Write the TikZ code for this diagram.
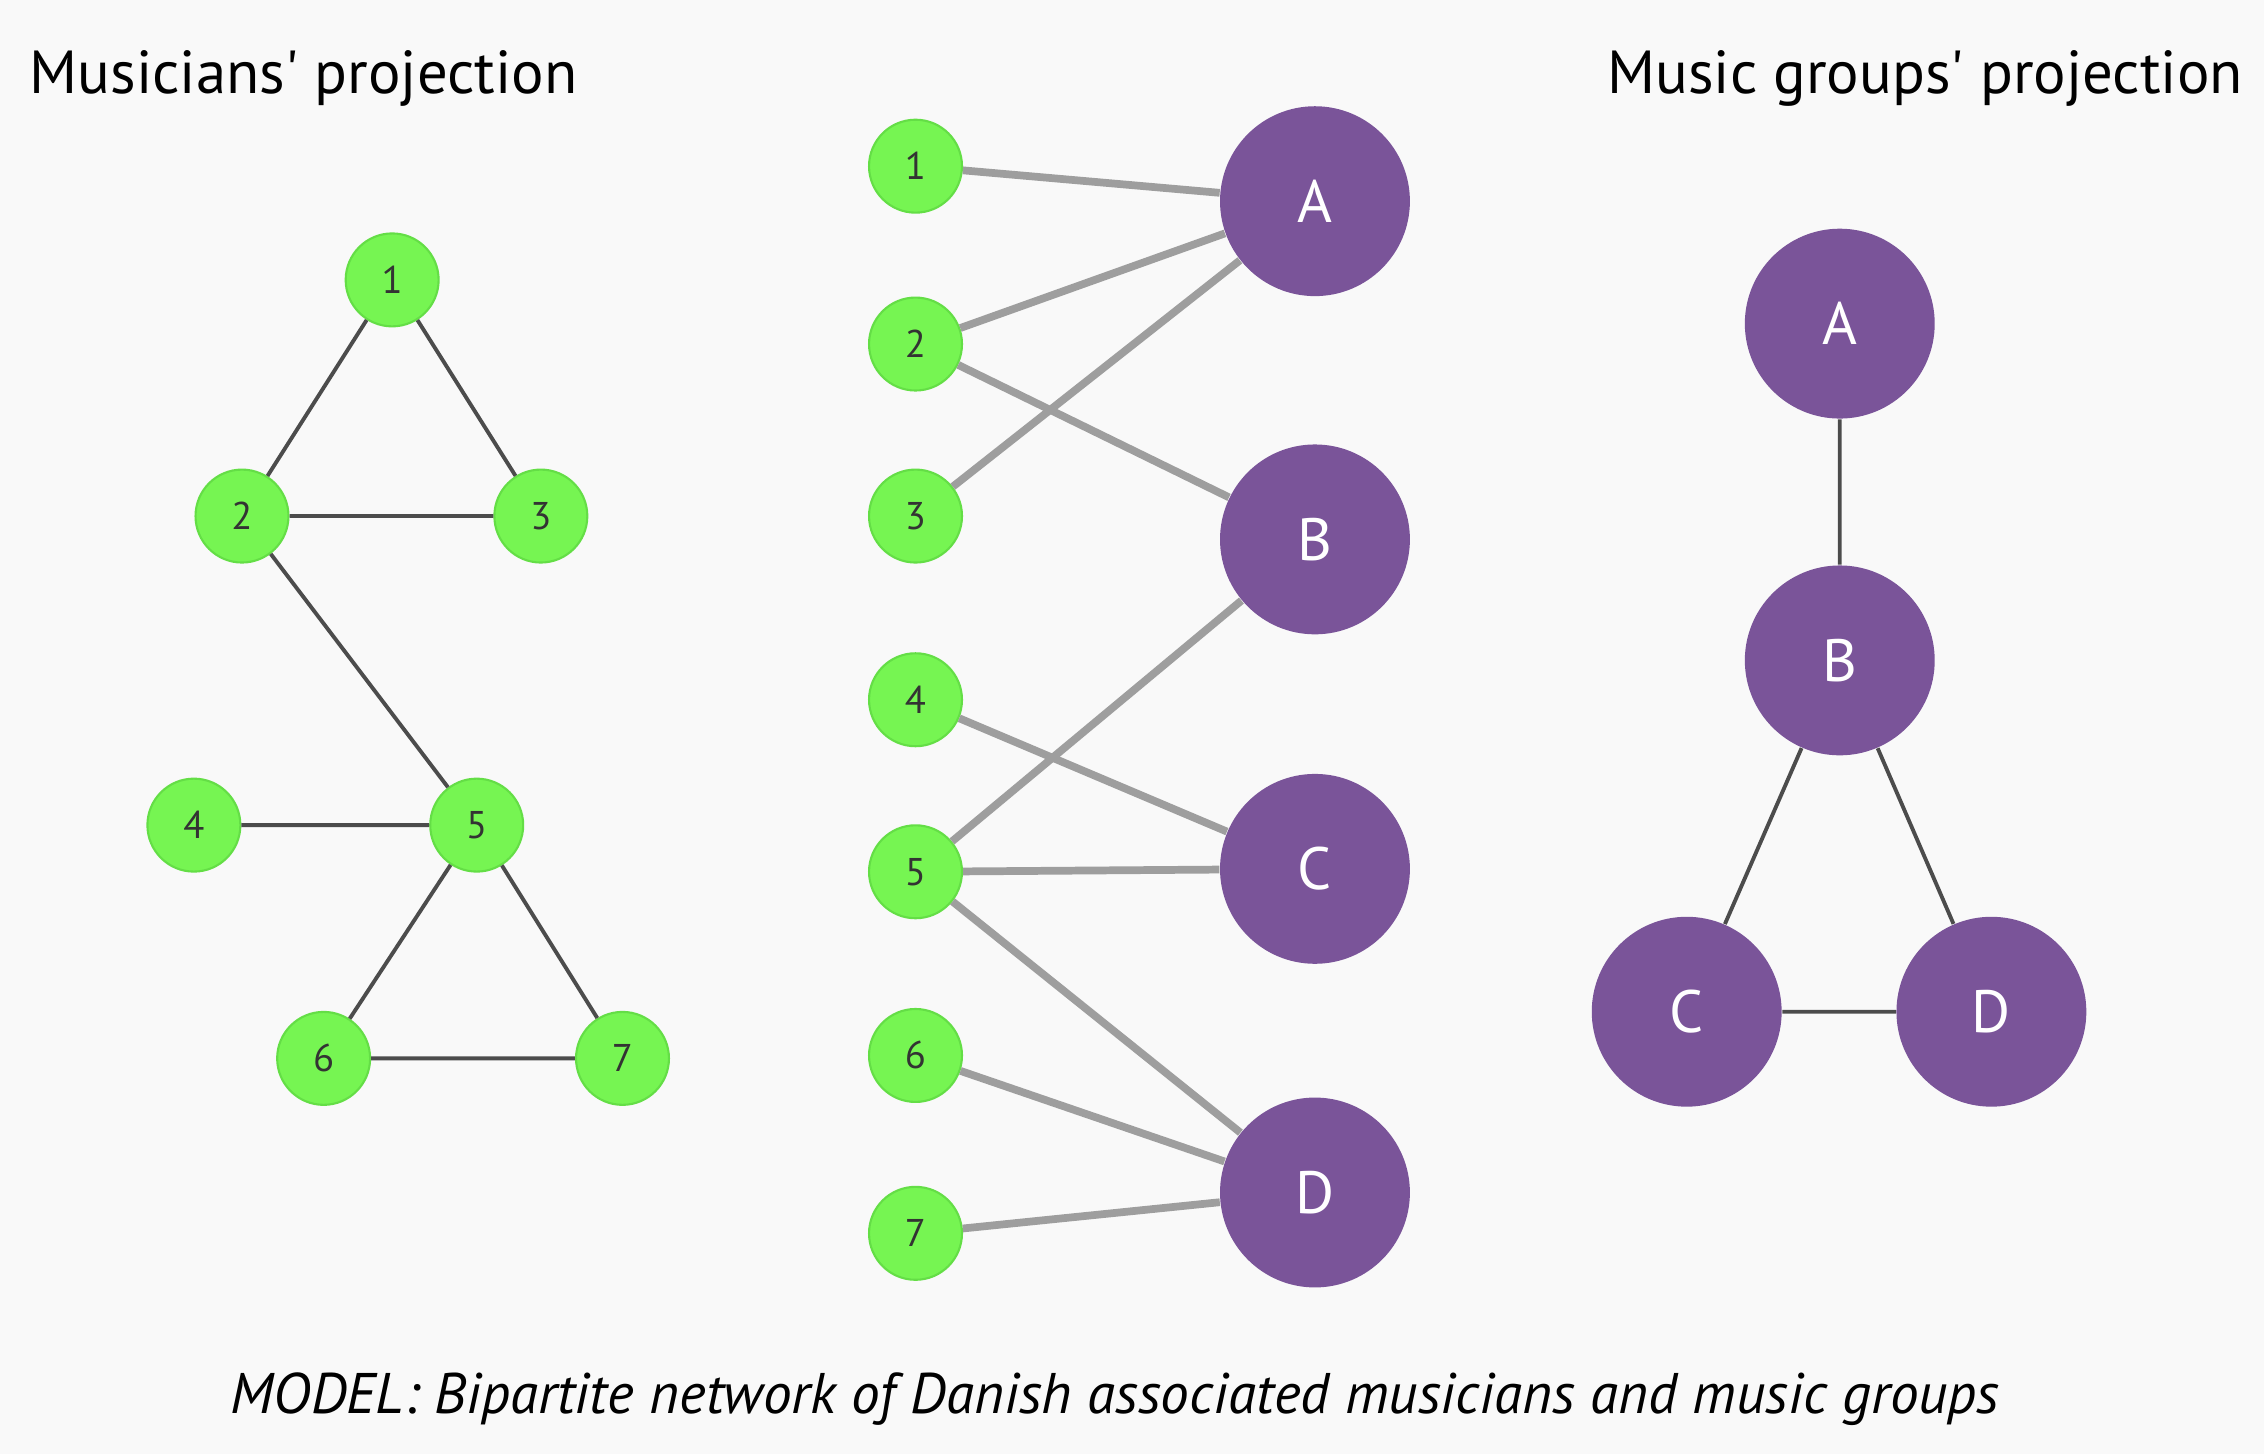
\documentclass[tikz,border=0pt]{standalone}
\usepackage{fontspec}
\setmainfont{PT Sans}
\definecolor{bg}{RGB}{249,249,249}
\definecolor{mgreen}{RGB}{118,245,82}
\definecolor{mgreenline}{RGB}{100,222,70}
\definecolor{gpurple}{RGB}{122,84,153}
\begin{document}
\begin{tikzpicture}[x=0.01458cm,y=-0.01458cm,
    musician/.style={circle,fill=mgreen,draw=mgreenline,line width=0.6pt,minimum size=0.93cm,inner sep=0pt,font=\fontsize{11}{11}\selectfont,text=black!80},
    group/.style={circle,fill=gpurple,minimum size=1.9cm,inner sep=0pt,font=\fontsize{17}{17}\selectfont,text=white},
    proj/.style={draw=black!70,line width=1.1pt},
    link/.style={draw=black!38,line width=2.2pt}]
  \fill[bg] (0,0) rectangle (1553,997.3);
  % titles
  \node[anchor=west,font=\fontsize{17.3}{17.3}\selectfont] (ltitle) at (12,54) {Musicians\textquotesingle{} projection};
  \node[anchor=east,font=\fontsize{17.3}{17.3}\selectfont] (rtitle) at (1547,54) {Music groups\textquotesingle{} projection};
  \node[font=\fontsize{16.3}{16.3}\selectfont\itshape] (caption) at (765,960) {MODEL: Bipartite network of Danish associated musicians and music groups};
  % musicians' projection
  \node[musician] (m1) at (269,192) {1};
  \node[musician] (m2) at (166,354) {2};
  \node[musician] (m3) at (371,354) {3};
  \node[musician] (m4) at (133,566) {4};
  \node[musician] (m5) at (327,566) {5};
  \node[musician] (m6) at (222,726) {6};
  \node[musician] (m7) at (427,726) {7};
  \draw[proj] (m1)--(m2) (m1)--(m3) (m2)--(m3) (m2)--(m5)
    (m4)--(m5) (m5)--(m6) (m5)--(m7) (m6)--(m7);
  % bipartite network
  \foreach \i/\y in {1/114,2/236,3/354,4/480,5/598,6/724,7/846}
    \node[musician] (b\i) at (628,\y) {\i};
  \foreach \g/\y in {A/138,B/370,C/596,D/818}
    \node[group] (g\g) at (902,\y) {\g};
  \foreach \i/\g in {1/A,2/A,3/A,2/B,5/B,4/C,5/C,5/D,6/D,7/D}
    \draw[link] (b\i)--(g\g);
  % music groups' projection
  \node[group] (pA) at (1262,222) {A};
  \node[group] (pB) at (1262,453) {B};
  \node[group] (pC) at (1157,694) {C};
  \node[group] (pD) at (1366,694) {D};
  \draw[proj] (pA)--(pB) (pB)--(pC) (pB)--(pD) (pC)--(pD);
\end{tikzpicture}
\end{document}
